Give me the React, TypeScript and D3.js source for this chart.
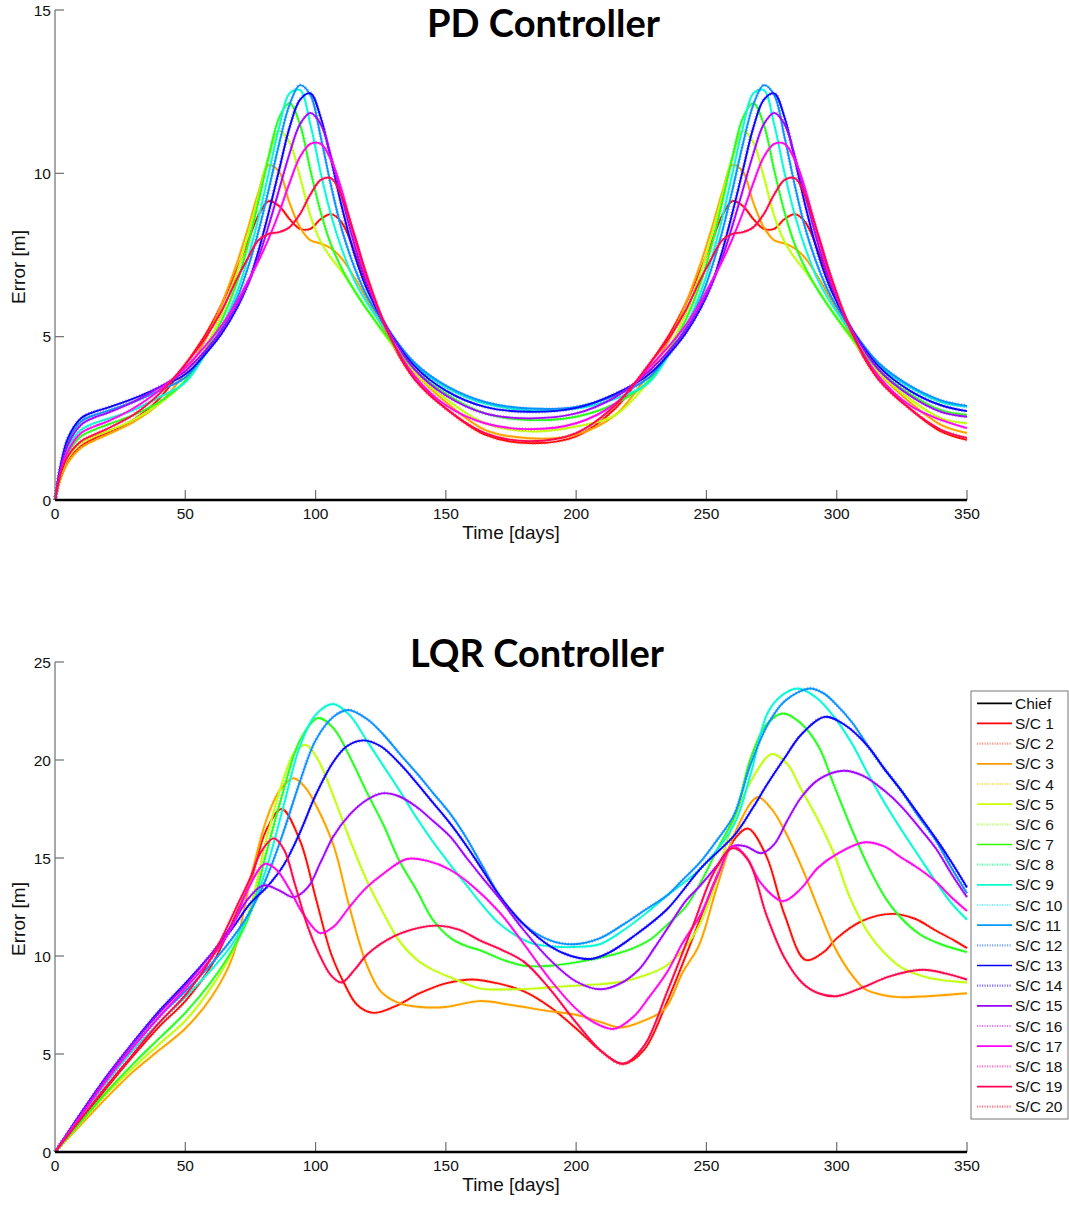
import React from 'react';
import * as d3 from 'd3';

// ---------------- DATA ----------------
const LEGEND_LABELS = ['Chief', 'S/C 1', 'S/C 2', 'S/C 3', 'S/C 4', 'S/C 5', 'S/C 6', 'S/C 7', 'S/C 8', 'S/C 9', 'S/C 10',
  'S/C 11', 'S/C 12', 'S/C 13', 'S/C 14', 'S/C 15', 'S/C 16', 'S/C 17', 'S/C 18', 'S/C 19', 'S/C 20'];

const SC_COLORS = ['#ff0000', '#ff6040', '#ff9900', '#ffcc00', '#ccff00', '#99ff33', '#33ff00', '#00ff80', '#00ffcc', '#33e6ff',
  '#0099ff', '#3377ff', '#0000ff', '#4422ff', '#9900ff', '#cc33ff', '#ff00ff', '#ff33aa', '#ff0055', '#ff3344'];

const X_TICKS = [0, 50, 100, 150, 200, 250, 300, 350];
const PD_Y_TICKS = [0, 5, 10, 15];
const LQR_Y_TICKS = [0, 5, 10, 15, 20, 25];

// PD controller: shared day grid, one curve per S/C pair
const PD_DAYS = [0, 2, 5, 10, 15, 20, 30, 40,
  50, 58, 64, 70, 74, 78, 82, 86, 90, 94, 98, 102, 106, 110, 115, 120, 128, 138, 150,
  165, 182, 200, 215,
  228, 236, 242, 248, 252, 256, 260, 264, 268, 272, 276, 280, 284, 288, 293, 298, 306, 316, 328,
  340, 350];

const PD_RED = [0, 0.65, 1.2, 1.65, 1.88, 2.05, 2.45, 3.1,
  4.15, 5.1, 6.0, 7.1, 7.9, 8.7, 9.15, 9.0, 8.6, 8.3, 8.3, 8.6, 8.75, 8.5, 7.6, 6.5, 5.0, 3.7, 2.8,
  2.0, 1.74, 1.95, 2.8,
  4.15, 5.1, 6.0, 7.1, 7.9, 8.7, 9.15, 9.0, 8.6, 8.3, 8.3, 8.6, 8.75, 8.5, 7.6, 6.5, 5.0, 3.7, 2.8,
  2.1, 1.84];
const PD_ORANGE = [0, 0.6, 1.15, 1.6, 1.82, 2.0, 2.38, 2.95,
  3.9, 4.95, 6.0, 7.3, 8.3, 9.4, 10.25, 10.05, 9.1, 8.35, 7.95, 7.85, 7.7, 7.4, 6.8, 6.1, 5.0, 3.9, 3.0,
  2.15, 1.89, 2.0, 2.6,
  3.9, 4.95, 6.0, 7.3, 8.3, 9.4, 10.25, 10.05, 9.1, 8.35, 7.95, 7.85, 7.7, 7.4, 6.8, 6.1, 5.0, 3.9, 3.0,
  2.3, 2.05];
const PD_YELLOW = [0, 0.7, 1.3, 1.75, 1.95, 2.1, 2.45, 2.95,
  3.65, 4.7, 5.7, 7.0, 8.1, 9.3, 10.5, 11.3, 10.95, 9.9, 8.7, 7.9, 7.4, 7.0, 6.4, 5.8, 4.9, 3.9, 3.1,
  2.35, 2.1, 2.25, 2.6,
  3.65, 4.7, 5.7, 7.0, 8.1, 9.3, 10.5, 11.3, 10.95, 9.9, 8.7, 7.9, 7.4, 7.0, 6.4, 5.8, 4.9, 3.9, 3.1,
  2.5, 2.35];
const PD_GREEN = [0, 0.8, 1.45, 1.95, 2.15, 2.3, 2.6, 3.0,
  3.65, 4.6, 5.5, 6.7, 7.8, 9.1, 10.5, 11.7, 12.15, 11.5, 10.1, 8.8, 7.8, 7.1, 6.4, 5.8, 4.95, 4.0, 3.25,
  2.65, 2.45, 2.55, 2.95,
  3.65, 4.6, 5.5, 6.7, 7.8, 9.1, 10.5, 11.7, 12.15, 11.5, 10.1, 8.8, 7.8, 7.1, 6.4, 5.8, 4.95, 4.0, 3.25,
  2.75, 2.6];
const PD_CYAN = [0, 0.85, 1.6, 2.15, 2.35, 2.48, 2.75, 3.15,
  3.6, 4.5, 5.3, 6.4, 7.4, 8.6, 10.0, 11.4, 12.45, 12.55, 11.5, 10.0, 8.7, 7.7, 6.7, 6.0, 5.1, 4.15, 3.45,
  2.95, 2.75, 2.8, 3.1,
  3.6, 4.5, 5.3, 6.4, 7.4, 8.6, 10.0, 11.4, 12.45, 12.55, 11.5, 10.0, 8.7, 7.7, 6.7, 6.0, 5.1, 4.15, 3.45,
  3.0, 2.85];
const PD_LBLUE = [0, 0.95, 1.8, 2.4, 2.6, 2.72, 3.0, 3.35,
  3.75, 4.55, 5.25, 6.2, 7.1, 8.2, 9.5, 10.9, 12.1, 12.7, 12.4, 11.1, 9.6, 8.3, 7.1, 6.2, 5.2, 4.2, 3.5,
  3.0, 2.8, 2.85, 3.2,
  3.75, 4.55, 5.25, 6.2, 7.1, 8.2, 9.5, 10.9, 12.1, 12.7, 12.4, 11.1, 9.6, 8.3, 7.1, 6.2, 5.2, 4.2, 3.5,
  3.05, 2.88];
const PD_BLUE = [0, 1.0, 1.9, 2.5, 2.7, 2.82, 3.1, 3.45,
  3.85, 4.5, 5.1, 5.9, 6.6, 7.6, 8.8, 10.1, 11.4, 12.25, 12.45, 11.7, 10.4, 9.0, 7.5, 6.4, 5.2, 4.1, 3.35,
  2.85, 2.7, 2.82, 3.25,
  3.85, 4.5, 5.1, 5.9, 6.6, 7.6, 8.8, 10.1, 11.4, 12.25, 12.45, 11.7, 10.4, 9.0, 7.5, 6.4, 5.2, 4.1, 3.35,
  2.9, 2.72];
const PD_PURPLE = [0, 0.9, 1.7, 2.3, 2.52, 2.66, 3.0, 3.45,
  3.95, 4.6, 5.2, 6.0, 6.6, 7.4, 8.4, 9.5, 10.6, 11.5, 11.85, 11.5, 10.5, 9.3, 7.8, 6.6, 5.2, 4.0, 3.2,
  2.65, 2.5, 2.65, 3.15,
  3.95, 4.6, 5.2, 6.0, 6.6, 7.4, 8.4, 9.5, 10.6, 11.5, 11.85, 11.5, 10.5, 9.3, 7.8, 6.6, 5.2, 4.0, 3.2,
  2.7, 2.55];
const PD_MAGENTA = [0, 0.8, 1.5, 2.05, 2.25, 2.4, 2.8, 3.35,
  4.05, 4.75, 5.35, 6.1, 6.7, 7.3, 8.0, 8.8, 9.7, 10.5, 10.9, 10.9, 10.4, 9.5, 8.0, 6.7, 5.1, 3.8, 2.9,
  2.35, 2.17, 2.35, 2.95,
  4.05, 4.75, 5.35, 6.1, 6.7, 7.3, 8.0, 8.8, 9.7, 10.5, 10.9, 10.9, 10.4, 9.5, 8.0, 6.7, 5.1, 3.8, 2.9,
  2.45, 2.2];
const PD_CRIMSON = [0, 0.75, 1.35, 1.8, 2.0, 2.18, 2.6, 3.25,
  4.15, 5.0, 5.8, 6.8, 7.4, 7.95, 8.15, 8.2, 8.35, 8.75, 9.35, 9.8, 9.85, 9.3, 8.1, 6.8, 5.1, 3.7, 2.8,
  2.05, 1.8, 2.05, 2.9,
  4.15, 5.0, 5.8, 6.8, 7.4, 7.95, 8.15, 8.2, 8.35, 8.75, 9.35, 9.8, 9.85, 9.3, 8.1, 6.8, 5.1, 3.7, 2.8,
  2.15, 1.9];

const PD_PAIRS = [PD_RED, PD_ORANGE, PD_YELLOW, PD_GREEN, PD_CYAN, PD_LBLUE, PD_BLUE, PD_PURPLE, PD_MAGENTA, PD_CRIMSON];

// LQR controller: [day, error] per S/C pair
const LQR_RED: [number, number][] = [[0, 0], [10, 1.6], [20, 3.3], [30, 4.9], [40, 6.4], [50, 7.7], [60, 9.5], [70, 12.3], [75, 13.8], [81, 16.4], [87, 17.5], [94, 15.9], [100, 13.0], [106, 10.1], [111, 8.6], [116, 7.5], [122, 7.1], [130, 7.4], [140, 8.1], [150, 8.6], [160, 8.8], [170, 8.6], [180, 8.2], [190, 7.4], [200, 6.3], [210, 5.1], [218, 4.5], [226, 5.2], [235, 7.7], [245, 11.0], [255, 14.4], [261, 16.0], [266, 16.5], [273, 15.1], [280, 12.1], [288, 9.8], [295, 10.2], [300, 10.9], [310, 11.8], [321, 12.15], [330, 11.9], [338, 11.3], [345, 10.8], [350, 10.4]];
const LQR_ORANGE: [number, number][] = [[0, 0], [10, 1.4], [20, 2.8], [30, 4.1], [40, 5.2], [50, 6.3], [60, 7.9], [68, 9.9], [75, 13.9], [81, 16.9], [86, 18.4], [91.5, 19.07], [96, 18.6], [100.5, 17.6], [107, 15.6], [113, 12.5], [119.5, 9.6], [125, 8.2], [132, 7.6], [140, 7.4], [150, 7.4], [163, 7.7], [175, 7.5], [189, 7.2], [200, 7.0], [210, 6.6], [217, 6.35], [226, 6.7], [234, 7.3], [241, 9.2], [247, 10.5], [254, 13.5], [262, 16.6], [269.7, 18.1], [275, 17.5], [280, 16.4], [287, 14.4], [293, 12.4], [299, 10.5], [306, 9.0], [311, 8.3], [318, 8.0], [324, 7.9], [335, 7.95], [350, 8.1]];
const LQR_YELLOW: [number, number][] = [[0, 0], [10, 1.5], [20, 3.0], [30, 4.3], [40, 5.5], [50, 6.7], [60, 8.4], [68, 10.2], [75, 12.5], [81, 15.9], [87.6, 19.0], [92, 20.4], [96.3, 20.77], [101, 20.0], [107, 18.1], [113, 16.0], [119.5, 13.9], [126, 12.2], [132, 10.8], [139, 9.8], [145, 9.3], [152, 8.9], [163, 8.35], [175, 8.3], [185, 8.35], [195, 8.45], [208, 8.55], [218, 8.7], [226, 9.0], [234, 9.45], [241, 10.3], [247, 11.5], [253, 13.5], [258, 15.9], [263, 17.8], [267, 18.9], [275, 20.3], [281, 19.8], [286, 18.6], [293, 16.9], [299, 15.2], [305, 13.0], [312, 11.2], [318, 10.2], [325, 9.4], [335, 8.9], [350, 8.65]];
const LQR_GREEN: [number, number][] = [[0, 0], [10, 1.55], [20, 3.1], [30, 4.5], [40, 5.8], [50, 7.1], [60, 8.7], [68, 10.3], [75, 12.2], [81, 15.2], [87.6, 18.4], [94, 21.0], [101, 22.14], [107, 21.6], [113, 20.2], [119.5, 18.4], [126, 16.7], [132, 14.9], [139, 13.3], [145, 11.85], [152, 10.9], [158, 10.5], [163, 10.3], [172, 9.8], [180, 9.5], [190, 9.5], [201, 9.7], [212, 10.0], [220, 10.3], [228, 10.8], [235, 11.6], [242, 12.5], [248, 13.8], [254, 15.4], [261, 17.2], [267, 20.1], [273, 21.8], [279.3, 22.37], [286, 21.9], [293, 20.7], [299, 18.7], [306, 16.4], [312, 14.6], [319, 12.9], [325, 11.9], [332, 11.1], [340, 10.6], [350, 10.2]];
const LQR_CYAN: [number, number][] = [[0, 0], [10, 1.8], [20, 3.6], [30, 5.2], [40, 6.6], [50, 7.9], [60, 9.3], [68, 10.6], [75, 12.3], [81.2, 14.5], [87.6, 17.6], [94, 20.7], [100, 22.3], [106.7, 22.86], [113, 22.3], [119.6, 21.0], [126, 19.7], [132.4, 18.4], [139, 17.0], [145.2, 15.8], [152, 14.6], [158, 13.6], [164, 12.6], [171, 11.6], [182, 10.7], [190, 10.5], [199, 10.46], [209, 10.6], [218, 11.3], [227, 12.2], [235, 13.1], [248, 14.5], [260.6, 16.7], [267, 19.3], [273.5, 22.4], [279, 23.3], [285, 23.65], [292, 23.2], [299, 22.2], [306, 20.8], [312, 19.3], [318, 17.9], [325, 16.4], [332, 15.0], [338, 13.8], [344, 12.7], [350, 11.85]];
const LQR_LBLUE: [number, number][] = [[0, 0], [10, 1.9], [20, 3.8], [30, 5.4], [40, 6.9], [50, 8.2], [60, 9.6], [68, 10.9], [75, 12.3], [81.2, 14.0], [87.6, 16.3], [94, 18.9], [100, 21.0], [106.8, 22.2], [112.5, 22.55], [119.6, 22.1], [126, 21.3], [132.4, 20.3], [139, 19.3], [145.2, 18.3], [152, 17.2], [158, 16.0], [164, 14.6], [171, 13.0], [180, 11.6], [190, 10.8], [199, 10.6], [209, 10.9], [218, 11.6], [227, 12.4], [235, 13.1], [241, 13.9], [247.7, 14.8], [254, 15.9], [260.6, 17.2], [267, 19.8], [273.5, 21.8], [280, 23.0], [289.6, 23.65], [295, 23.4], [299.3, 22.9], [306, 21.9], [312, 20.7], [318, 19.6], [325, 18.4], [331, 17.2], [338, 15.9], [344, 14.5], [350, 13.2]];
const LQR_BLUE: [number, number][] = [[0, 0], [10, 2.0], [20, 3.9], [30, 5.6], [40, 7.2], [50, 8.6], [60, 10.1], [68, 11.4], [75, 12.7], [81.2, 13.5], [87.6, 14.6], [94, 16.3], [100, 18.2], [106.8, 19.9], [112, 20.7], [118.3, 21.0], [125, 20.7], [132.4, 19.8], [139, 18.8], [145.2, 17.8], [152, 16.7], [158, 15.6], [164, 14.4], [171, 13.0], [180, 11.6], [190, 10.5], [198, 10.0], [205.7, 9.85], [213, 10.2], [222, 11.0], [235, 12.4], [248, 14.5], [261, 16.2], [268, 17.6], [273.5, 18.8], [280, 20.1], [286.4, 21.3], [295.4, 22.2], [303, 21.8], [312, 20.7], [318, 19.6], [325, 18.4], [331, 17.3], [338, 16.0], [344, 14.8], [350, 13.5]];
const LQR_PURPLE: [number, number][] = [[0, 0], [10, 1.95], [20, 3.85], [30, 5.55], [40, 7.1], [50, 8.5], [60, 10.1], [68, 11.6], [74, 12.9], [80, 13.6], [86, 13.35], [91.5, 13.0], [97, 13.5], [102, 14.8], [106.8, 16.1], [113, 17.2], [119.6, 17.96], [125.5, 18.3], [132, 18.15], [138.8, 17.6], [145, 16.9], [151.6, 16.1], [158, 15.0], [164, 14.0], [170.8, 12.9], [180, 11.3], [190, 9.8], [200, 8.7], [209.5, 8.3], [217, 8.6], [224, 9.3], [230, 10.4], [236, 11.6], [242, 12.8], [247.7, 13.6], [254, 14.6], [260, 15.6], [265, 15.6], [271, 15.25], [276, 15.7], [281, 16.9], [286.4, 18.1], [293, 19.0], [302.5, 19.45], [310, 19.2], [318.6, 18.4], [325, 17.6], [332, 16.5], [338, 15.5], [344, 14.2], [350, 13.0]];
const LQR_MAGENTA: [number, number][] = [[0, 0], [10, 1.85], [20, 3.7], [30, 5.35], [40, 6.9], [50, 8.35], [60, 9.9], [68, 11.5], [74, 13.4], [80.6, 14.7], [85, 14.4], [90, 13.4], [95, 12.2], [101.7, 11.17], [107, 11.5], [113, 12.5], [119.6, 13.5], [126, 14.2], [135, 14.95], [143, 14.85], [151.6, 14.4], [160, 13.6], [170.8, 12.2], [180, 10.6], [190, 8.8], [200, 7.3], [207, 6.6], [214.5, 6.28], [222, 6.9], [228, 7.9], [235, 9.2], [241, 10.7], [247.7, 12.1], [254, 14.0], [260, 15.6], [265, 15.1], [271, 13.7], [279.3, 12.8], [286, 13.4], [292.8, 14.5], [300, 15.2], [310.8, 15.8], [318, 15.6], [325, 15.0], [331, 14.5], [338, 13.8], [344, 13.0], [350, 12.3]];
const LQR_CRIMSON: [number, number][] = [[0, 0], [10, 1.7], [20, 3.4], [30, 5.0], [40, 6.6], [50, 8.0], [60, 9.9], [70, 12.6], [75, 14.0], [79, 15.3], [84, 16.0], [88, 15.4], [92, 13.7], [97, 11.5], [101, 10.2], [106, 9.0], [110, 8.65], [115, 9.3], [120, 10.1], [130, 11.0], [140, 11.45], [147, 11.55], [155, 11.35], [163, 10.8], [170, 10.4], [180, 9.7], [190, 8.3], [200, 6.6], [210, 5.1], [218, 4.5], [226, 5.4], [235, 8.2], [245, 11.6], [253, 14.3], [260, 15.5], [266, 14.9], [273, 12.1], [280, 9.9], [287, 8.6], [293, 8.1], [300, 7.95], [310, 8.4], [320, 8.95], [333, 9.3], [342, 9.1], [350, 8.8]];

const LQR_PAIRS = [LQR_RED, LQR_ORANGE, LQR_YELLOW, LQR_GREEN, LQR_CYAN, LQR_LBLUE, LQR_BLUE, LQR_PURPLE, LQR_MAGENTA, LQR_CRIMSON];

// ---------------- LAYOUT ----------------
const W = 1069;
const H = 1205;
const X0 = 55;
const X1 = 967;
const TICK_FONT = '"Liberation Sans", Arial, sans-serif';

type Pt = [number, number];

function Panel(props: {
  yTop: number; yBottom: number; yMax: number; yTicks: number[];
  title: string; titleX: number; titleBaseline: number; titleLen: number; series: Pt[][];
}) {
  const { yTop, yBottom, yMax, yTicks, title, titleX, titleBaseline, titleLen, series } = props;
  const x = d3.scaleLinear().domain([0, 350]).range([X0, X1]);
  const y = d3.scaleLinear().domain([0, yMax]).range([yBottom, yTop]);
  const line = d3.line<Pt>().x(d => x(d[0])).y(d => y(d[1])).curve(d3.curveCatmullRom.alpha(0.5));

  const paths: React.ReactNode[] = [];
  for (let k = 0; k < 20; k++) {
    const data = series[Math.floor(k / 2)];
    const d = line(data) || '';
    const dotted = k % 2 === 1;
    paths.push(
      <path key={k} d={d} fill="none" stroke={SC_COLORS[k]}
        strokeWidth={dotted ? 3.8 : 1.9}
        strokeDasharray={dotted ? '0.9 2.1' : undefined}
        strokeOpacity={dotted ? 0.5 : 1} />
    );
  }

  return (
    <g>
      <text x={titleX} y={titleBaseline} textAnchor="middle"
        fontFamily='Lato, "Open Sans", sans-serif' fontWeight={700} fontSize={38}
        textLength={titleLen} lengthAdjust="spacingAndGlyphs" fill="#000">{title}</text>
      {paths}
      {/* y axis */}
      <line x1={X0} x2={X0} y1={yBottom} y2={yTop} stroke="#6e6e6e" strokeWidth={1.2} />
      {yTicks.map(t => (
        <g key={'y' + t}>
          <line x1={X0} x2={X0 + 9} y1={y(t)} y2={y(t)} stroke="#6e6e6e" strokeWidth={1.2} />
          <text x={X0 - 4} y={y(t)} dy="0.36em" textAnchor="end" fontFamily={TICK_FONT} fontSize={15.5} fill="#111">{t}</text>
        </g>
      ))}
      {/* x axis ticks */}
      {X_TICKS.map(t => (
        <g key={'x' + t}>
          {t > 0 && <line x1={x(t)} x2={x(t)} y1={yBottom} y2={yBottom - 10} stroke="#6e6e6e" strokeWidth={1.2} />}
          <text x={x(t)} y={yBottom + 19} textAnchor="middle" fontFamily={TICK_FONT} fontSize={15.5} fill="#111">{t}</text>
        </g>
      ))}
      {/* chief (zero error) */}
      <line x1={x(0)} x2={x(350)} y1={y(0)} y2={y(0)} stroke="#000" strokeWidth={2.6} />
      <text x={(X0 + X1) / 2} y={yBottom + 39} textAnchor="middle" fontFamily={TICK_FONT} fontSize={19} fill="#111">Time [days]</text>
      <text transform={`translate(25,${(yTop + yBottom) / 2 + 12}) rotate(-90)`} textAnchor="middle"
        fontFamily={TICK_FONT} fontSize={19} fill="#111">Error [m]</text>
    </g>
  );
}

function Legend() {
  const left = 971, top = 691, width = 97, height = 428;
  const row0 = 703.3, step = 20.17;
  return (
    <g>
      <rect x={left} y={top} width={width} height={height} fill="#fff" stroke="#777" strokeWidth={1} />
      {LEGEND_LABELS.map((lab, i) => {
        const yy = row0 + i * step;
        const k = i - 1;
        const color = i === 0 ? '#000' : SC_COLORS[k];
        const dotted = i > 0 && k % 2 === 1;
        return (
          <g key={lab}>
            <line x1={977} x2={1012} y1={yy} y2={yy} stroke={color}
              strokeWidth={dotted ? 2.2 : 1.7} strokeDasharray={dotted ? '1.2 1.3' : undefined}
              strokeOpacity={dotted ? 0.65 : 1} />
            <text x={1015} y={yy} dy="0.36em" fontFamily={TICK_FONT} fontSize={15.5} fill="#111">{lab}</text>
          </g>
        );
      })}
    </g>
  );
}

export default function App() {
  const pdSeries: Pt[][] = PD_PAIRS.map(vals => vals.map((v, i) => [PD_DAYS[i], v] as Pt));
  const lqrSeries: Pt[][] = LQR_PAIRS;
  return (
    <svg width={W} height={H} style={{ position: 'absolute', left: 0, top: 0, background: '#fff' }}>
      <rect x={0} y={0} width={W} height={H} fill="#fff" />
      <Panel yTop={10} yBottom={500} yMax={15} yTicks={PD_Y_TICKS} title="PD Controller"
        titleX={543.5} titleBaseline={37} titleLen={233} series={pdSeries} />
      <Panel yTop={662} yBottom={1152} yMax={25} yTicks={LQR_Y_TICKS} title="LQR Controller"
        titleX={537} titleBaseline={667} titleLen={254} series={lqrSeries} />
      <Legend />
    </svg>
  );
}
